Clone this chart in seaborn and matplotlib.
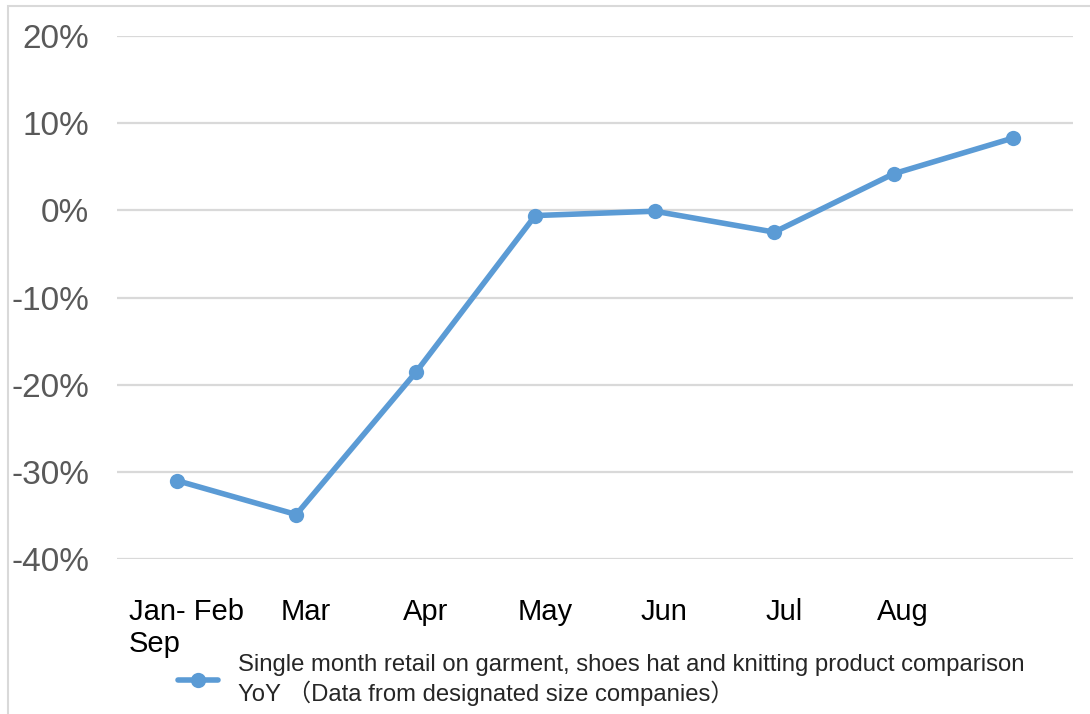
import numpy as np
import pandas as pd
import matplotlib
matplotlib.use("Agg")
import matplotlib.pyplot as plt
from matplotlib.patches import Rectangle
from matplotlib.ticker import FuncFormatter
import seaborn as sns

months = ["Jan- Feb", "Mar", "Apr", "May", "Jun", "Jul", "Aug", "Sep"]
yoy = [-31.0, -34.9, -18.6, -0.6, -0.1, -2.5, 4.2, 8.3]
series_name = ("Single month retail on garment, shoes hat and knitting product comparison\n"
               "YoY （Data from designated size companies）")
y_ticks = [-40, -30, -20, -10, 0, 10, 20]

sns.set_theme(style="white")
plt.rcParams["font.family"] = ["Liberation Sans", "Noto Sans CJK SC", "DejaVu Sans"]

df = pd.DataFrame({"pos": np.arange(len(months)), "value": yoy, "series": series_name})

fig = plt.figure(figsize=(10.9, 7.14), dpi=100)
ax = fig.add_axes([117/1090, 1-559/714, (1073-117)/1090, (559-36)/714])

sns.lineplot(data=df, x="pos", y="value", hue="series", palette=["#5B9BD5"],
             marker="o", markersize=11, markeredgewidth=0, linewidth=4,
             sort=False, ax=ax)

ax.set_xlim(-0.5, len(months) - 0.5)
ax.set_ylim(min(y_ticks), max(y_ticks))
ax.set_yticks(y_ticks)
ax.yaxis.set_major_formatter(FuncFormatter(lambda v, p: f"{v:.0f}%"))
ax.grid(axis="y", color="#D9D9D9", linewidth=1.6)
ax.grid(axis="x", visible=False)
for s in ax.spines.values():
    s.set_visible(False)
ax.set_xlabel("")
ax.set_ylabel("")

tick_labels = [months[0] + "\n" + months[-1]] + months[1:-1] + [""]
ax.set_xticks(np.arange(len(months)) + 0.08)
ax.set_xticklabels(tick_labels, fontsize=21, color="black")
for lab in ax.get_xticklabels():
    lab.set_multialignment("left")
ax.tick_params(axis="x", length=0, pad=28)
ax.tick_params(axis="y", length=0, pad=20, labelsize=24, labelcolor="#595959")

handles, labels = ax.get_legend_handles_labels()
ax.legend(handles, labels, loc="upper left", bbox_to_anchor=(156/1090, 1-633/714),
          bbox_transform=fig.transFigure, frameon=False, fontsize=17.2,
          handlelength=1.7, handletextpad=0.84, labelspacing=0.2)

fig.patches.append(Rectangle((8/1090, -0.5), 2, 1.5 - 6/714, fill=False,
                             edgecolor="#D9D9D9", linewidth=1.5,
                             transform=fig.transFigure, figure=fig))

fig.savefig("out.png", dpi=100)
